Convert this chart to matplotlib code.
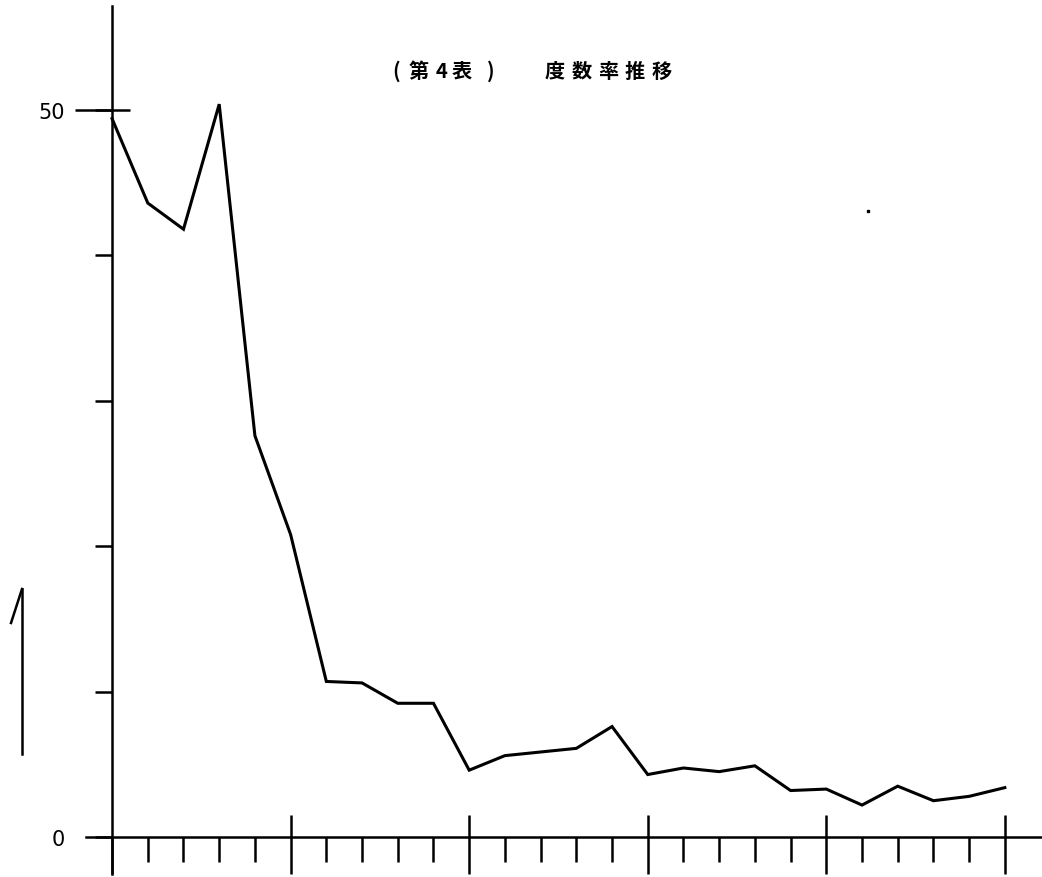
# 度数率推移 (第4表) - 折れ線グラフ
import matplotlib.pyplot as plt
from matplotlib.lines import Line2D

plt.rcParams['font.family'] = ['Noto Sans CJK JP', 'DejaVu Sans']

# データ (目盛り 0..25 の各点)
periodo = list(range(26))
valores = [49.4, 43.6, 41.8, 50.4, 27.6, 20.8, 10.7, 10.6, 9.2, 9.2,
           4.6, 5.6, 5.85, 6.1, 7.6, 4.3, 4.75, 4.5, 4.9, 3.2,
           3.3, 2.2, 3.5, 2.5, 2.8, 3.4]
marcas_y = [0, 10, 20, 30, 40, 50]
etiquetas_y = ['0', '', '', '', '', '50']
marcas_mayores = [0, 5, 10, 15, 20, 25]
marcas_menores = [i for i in periodo if i % 5 != 0]

# título, carácter por carácter (como en el original mecanografiado)
titulo = ['(', '第', '4', '表', ')', '度', '数', '率', '推', '移']
titulo_px = [392, 409, 436, 452, 487, 545, 572, 598, 625, 652]

fig = plt.figure(figsize=(10.42, 8.78), dpi=100)
ax = fig.add_axes([86 / 1042, 3 / 878, (1042 - 86) / 1042, 868 / 878])

ax.plot(periodo, valores, color='black', linewidth=2.2, solid_joinstyle='miter')

ax.set_xlim(-0.73, 26.04)
ax.set_ylim(-2.54, 57.15)

# ejes en el origen
for lado in ['top', 'right']:
    ax.spines[lado].set_visible(False)
ax.spines['left'].set_position(('data', 0))
ax.spines['bottom'].set_position(('data', 0))
ax.spines['left'].set_linewidth(1.8)
ax.spines['bottom'].set_linewidth(1.8)

ax.set_xticks(marcas_mayores)
ax.set_xticks(marcas_menores, minor=True)
ax.set_xticklabels([])
ax.tick_params(axis='x', which='major', direction='out', length=26.6, width=1.8)
ax.tick_params(axis='x', which='minor', direction='out', length=18, width=1.8)
# parte superior de las marcas mayores
ax.vlines(marcas_mayores[1:], 0, 1.5, color='black', linewidth=1.8)

ax.set_yticks(marcas_y)
ax.set_yticklabels(etiquetas_y, fontsize=15, family='DejaVu Sans')
ax.tick_params(axis='y', direction='out', length=12, width=1.8, pad=22)
# marca de 50 que cruza el eje
ax.hlines(50, -1.05, 0.5, color='black', linewidth=1.8, clip_on=False)

for ch, px in zip(titulo, titulo_px):
    fig.text(px / 1042, 1 - 71 / 878, ch, fontsize=14.5, fontweight='bold',
             va='center', ha='left')

# trazos sueltos del escaneo
fig.add_artist(Line2D([22 / 1042, 22 / 1042], [1 - 590 / 878, 1 - 755 / 878],
                      color='black', linewidth=1.8))
fig.add_artist(Line2D([22 / 1042, 11 / 1042], [1 - 590 / 878, 1 - 624 / 878],
                      color='black', linewidth=1.8))
fig.add_artist(Line2D([868 / 1042], [1 - 212 / 878], marker='s', markersize=2,
                      color='black', linestyle='none'))

plt.savefig('out.png', dpi=100)
